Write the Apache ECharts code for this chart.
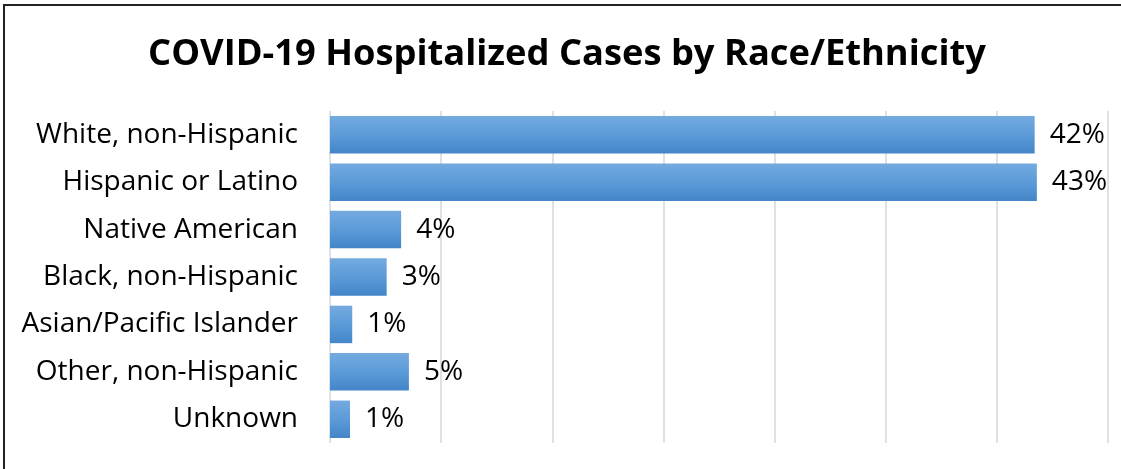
<!DOCTYPE html>
<html>
<head>
<meta charset="utf-8">
<script src="https://cdn.jsdelivr.net/npm/echarts@6/dist/echarts.min.js"></script>
<style>html,body{margin:0;padding:0;background:#fff;}#c{width:1121px;height:469px;}</style>
</head>
<body>
<div id="c"></div>
<script>
const titleText = 'COVID-19 Hospitalized Cases by Race/Ethnicity';
const categories = ['White, non-Hispanic', 'Hispanic or Latino', 'Native American', 'Black, non-Hispanic', 'Asian/Pacific Islander', 'Other, non-Hispanic', 'Unknown'];
const cases = [634, 636, 64, 51, 20, 71, 18];
const total = cases.reduce((a, b) => a + b, 0);

const chart = echarts.init(document.getElementById('c'));
chart.setOption({
  animation: false,
  backgroundColor: '#fff',
  graphic: [{
    type: 'rect',
    shape: { x: 4, y: 5, width: 1130, height: 480 },
    style: { fill: 'none', stroke: '#222', lineWidth: 2 },
    silent: true
  }],
  title: {
    text: titleText,
    left: 562,
    textAlign: 'center',
    top: 32,
    textStyle: { fontFamily: '"Open Sans", sans-serif', fontWeight: 'bold', fontSize: 36.3, color: '#000' }
  },
  grid: { left: 330, right: 13, top: 111, bottom: 26, containLabel: false },
  xAxis: {
    type: 'value', min: 0, max: 700, interval: 100,
    axisLabel: { show: false },
    axisLine: { show: false },
    axisTick: { show: false },
    splitLine: { show: true, lineStyle: { color: '#dde1e8', width: 2 } }
  },
  yAxis: {
    type: 'category', inverse: true, data: categories,
    axisLine: { show: false },
    axisTick: { show: false },
    axisLabel: { margin: 32, fontFamily: '"Open Sans", sans-serif', fontSize: 28, color: '#000' }
  },
  series: [{
    type: 'bar',
    data: cases,
    barCategoryGap: '21%',
    itemStyle: {
      color: new echarts.graphic.LinearGradient(0, 0, 0, 1, [
        { offset: 0, color: '#74aadf' },
        { offset: 0.5, color: '#5b9bd8' },
        { offset: 1, color: '#4385c8' }
      ])
    },
    label: {
      show: true, position: 'right', distance: 15,
      fontFamily: '"Open Sans", sans-serif', fontSize: 28, color: '#000',
      formatter: p => Math.round(p.value / total * 100) + '%'
    }
  }]
});
</script>
</body>
</html>
